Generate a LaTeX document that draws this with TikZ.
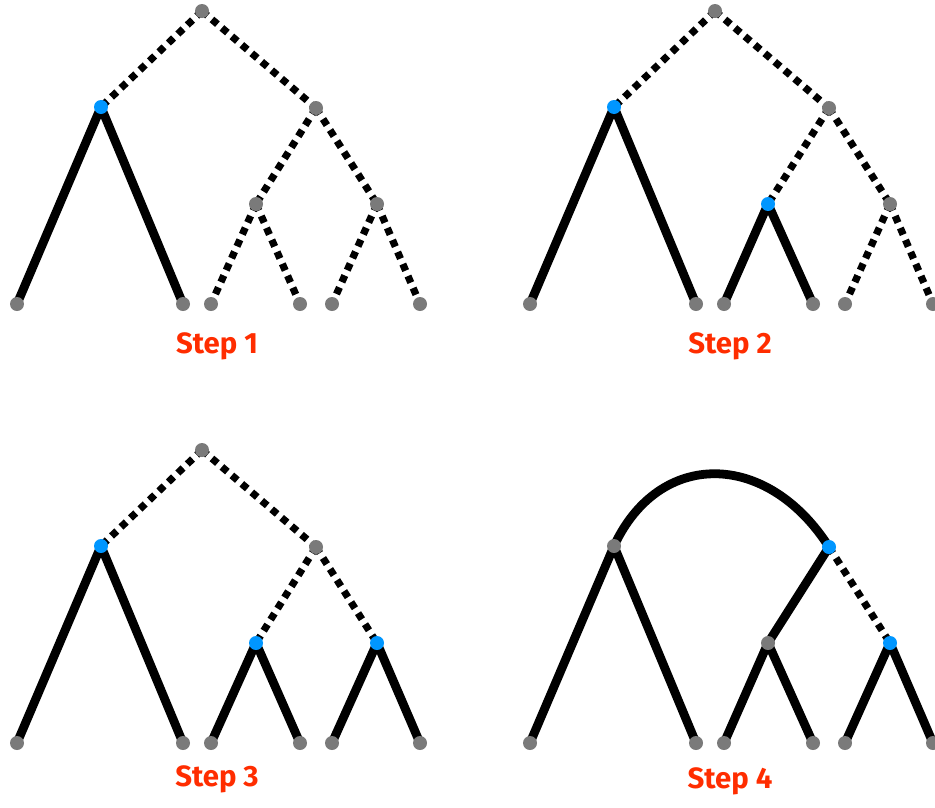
\documentclass[tikz,border=0pt]{standalone}
\usepackage{fontspec}
\newfontfamily\stepfont{Fira Sans}
\usetikzlibrary{backgrounds}
\definecolor{dotgray}{HTML}{7A7A7A}
\definecolor{dotblue}{HTML}{0096FF}
\definecolor{steporange}{HTML}{FF2D00}
\tikzset{
  x=0.75pt, y=-0.75pt, % one unit is one pixel of the layout, y pointing down
  vertex/.style={circle, fill=dotgray, inner sep=0pt, minimum size=10.5pt}, % a plain tree node
  picked/.style={vertex, fill=dotblue}, % a node that has been handled
  solidedge/.style={line width=6.6pt}, % an edge that is kept
  dottededge/.style={line width=5.4pt, dash pattern=on 5.4pt off 4.4pt}, % an edge still open
  steplabel/.style={text=steporange, font=\stepfont\bfseries\fontsize{22}{26}\selectfont},
}

\begin{document}
\begin{tikzpicture}
  \useasboundingbox (0,0) rectangle (935,807);

  % Step 1
  \begin{scope}[shift={(0,0)}]
    \node[vertex] (r1) at (202,11) {};
    \node[picked] (a1) at (101,107) {};
    \node[vertex] (b1) at (316,108) {};
    \node[vertex] (c1) at (256,204) {};
    \node[vertex] (d1) at (377,204) {};
    \node[vertex] (l11) at (17,304) {};
    \node[vertex] (l12) at (183,304) {};
    \node[vertex] (l13) at (211,304) {};
    \node[vertex] (l14) at (300,304) {};
    \node[vertex] (l15) at (332,304) {};
    \node[vertex] (l16) at (420,304) {};
    \node[steplabel] (s1) at (217,346) {Step 1};
    \begin{pgfonlayer}{background}
      \draw[dottededge] (r1.center) -- (a1.center);
      \draw[dottededge] (r1.center) -- (b1.center);
      \draw[solidedge] (a1.center) -- (l11.center);
      \draw[solidedge] (a1.center) -- (l12.center);
      \draw[dottededge] (b1.center) -- (c1.center);
      \draw[dottededge] (b1.center) -- (d1.center);
      \draw[dottededge] (c1.center) -- (l13.center);
      \draw[dottededge] (c1.center) -- (l14.center);
      \draw[dottededge] (d1.center) -- (l15.center);
      \draw[dottededge] (d1.center) -- (l16.center);
    \end{pgfonlayer}
  \end{scope}

  % Step 2
  \begin{scope}[shift={(513,0)}]
    \node[vertex] (r2) at (202,11) {};
    \node[picked] (a2) at (101,107) {};
    \node[vertex] (b2) at (316,108) {};
    \node[picked] (c2) at (255,204) {};
    \node[vertex] (d2) at (377,204) {};
    \node[vertex] (l21) at (17,304) {};
    \node[vertex] (l22) at (183,304) {};
    \node[vertex] (l23) at (211,304) {};
    \node[vertex] (l24) at (300,304) {};
    \node[vertex] (l25) at (332,304) {};
    \node[vertex] (l26) at (420,304) {};
    \node[steplabel] (s2) at (217,346) {Step 2};
    \begin{pgfonlayer}{background}
      \draw[dottededge] (r2.center) -- (a2.center);
      \draw[dottededge] (r2.center) -- (b2.center);
      \draw[solidedge] (a2.center) -- (l21.center);
      \draw[solidedge] (a2.center) -- (l22.center);
      \draw[dottededge] (b2.center) -- (c2.center);
      \draw[dottededge] (b2.center) -- (d2.center);
      \draw[solidedge] (c2.center) -- (l23.center);
      \draw[solidedge] (c2.center) -- (l24.center);
      \draw[dottededge] (d2.center) -- (l25.center);
      \draw[dottededge] (d2.center) -- (l26.center);
    \end{pgfonlayer}
  \end{scope}

  % Step 3
  \begin{scope}[shift={(0,439)}]
    \node[vertex] (r3) at (202,11) {};
    \node[picked] (a3) at (101,107) {};
    \node[vertex] (b3) at (316,108) {};
    \node[picked] (c3) at (256,204) {};
    \node[picked] (d3) at (377,204) {};
    \node[vertex] (l31) at (17,304) {};
    \node[vertex] (l32) at (183,304) {};
    \node[vertex] (l33) at (211,304) {};
    \node[vertex] (l34) at (300,304) {};
    \node[vertex] (l35) at (332,304) {};
    \node[vertex] (l36) at (420,304) {};
    \node[steplabel] (s3) at (217,340) {Step 3};
    \begin{pgfonlayer}{background}
      \draw[dottededge] (r3.center) -- (a3.center);
      \draw[dottededge] (r3.center) -- (b3.center);
      \draw[solidedge] (a3.center) -- (l31.center);
      \draw[solidedge] (a3.center) -- (l32.center);
      \draw[dottededge] (b3.center) -- (c3.center);
      \draw[dottededge] (b3.center) -- (d3.center);
      \draw[solidedge] (c3.center) -- (l33.center);
      \draw[solidedge] (c3.center) -- (l34.center);
      \draw[solidedge] (d3.center) -- (l35.center);
      \draw[solidedge] (d3.center) -- (l36.center);
    \end{pgfonlayer}
  \end{scope}

  % Step 4
  \begin{scope}[shift={(513,439)}]
    \node[vertex] (a4) at (101,107) {};
    \node[picked] (b4) at (316,108) {};
    \node[vertex] (c4) at (255,204) {};
    \node[picked] (d4) at (377,204) {};
    \node[vertex] (l41) at (17,304) {};
    \node[vertex] (l42) at (183,304) {};
    \node[vertex] (l43) at (211,304) {};
    \node[vertex] (l44) at (300,304) {};
    \node[vertex] (l45) at (332,304) {};
    \node[vertex] (l46) at (420,304) {};
    \node[steplabel] (s4) at (217,342) {Step 4};
    \begin{pgfonlayer}{background}
      \draw[solidedge] (a4.center) .. controls +(45,-97) and +(-62,-97) .. (b4.center);
      \draw[solidedge] (a4.center) -- (l41.center);
      \draw[solidedge] (a4.center) -- (l42.center);
      \draw[solidedge] (b4.center) -- (c4.center);
      \draw[dottededge] (b4.center) -- (d4.center);
      \draw[solidedge] (c4.center) -- (l43.center);
      \draw[solidedge] (c4.center) -- (l44.center);
      \draw[solidedge] (d4.center) -- (l45.center);
      \draw[solidedge] (d4.center) -- (l46.center);
    \end{pgfonlayer}
  \end{scope}
\end{tikzpicture}
\end{document}
